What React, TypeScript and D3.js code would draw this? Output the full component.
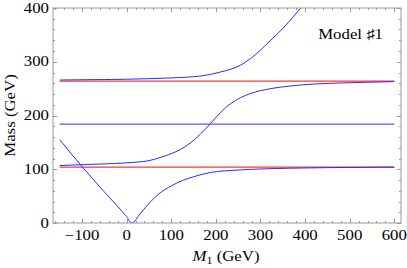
import * as d3 from 'd3';
import { useEffect, useRef } from 'react';

// M1 (GeV) grid and masses (GeV)
const m1V = [-150, -100, -50, 0, 12, 30, 53, 75, 100, 125, 150, 188, 250, 300, 368, 450, 600];
const massV = [155, 105, 58, 12, 0, 17, 39, 56, 69, 79, 86, 94, 98.5, 100.5, 102, 103, 104];

const m1Mid = [-150, -100, -50, 0, 50, 76, 100, 121, 143, 165, 188, 210, 233, 255, 278, 323, 368, 420, 500, 600];
const massMid = [107, 108.5, 110, 112, 116, 122, 129, 137, 149, 165, 185, 205, 222, 233, 241, 250, 255, 258.5, 261, 263];

const m1Top = [-150, -100, 0, 100, 166, 211, 256, 278, 323, 357, 390, 410];
const massTop = [266, 266.5, 267.5, 270, 273.5, 281, 294, 306, 340, 368, 400, 420];

const redLevels = [264, 104];
const blueLevels = [184];
const lineRange = [-150, 600];

const xTicks = [-100, 0, 100, 200, 300, 400, 500, 600];
const yTicks = [0, 100, 200, 300, 400];

export default function App() {
    const ref = useRef<SVGSVGElement>(null);

    useEffect(() => {
        const svg = d3.select(ref.current);
        svg.selectAll("*").remove();

        const left = 53, right = 401, top = 8, bottom = 223;
        const x = d3.scaleLinear().domain([-165, 615]).range([left, right]);
        const y = d3.scaleLinear().domain([0, 400]).range([bottom, top]);
        const frameColor = "#999";
        const blue = "#2a2aff";

        svg.append("defs").append("clipPath").attr("id", "plot-clip")
            .append("rect")
            .attr("x", left).attr("y", top)
            .attr("width", right - left).attr("height", bottom - top);

        const plot = svg.append("g").attr("clip-path", "url(#plot-clip)");

        const line = d3.line<[number, number]>()
            .x(d => x(d[0]))
            .y(d => y(d[1]))
            .curve(d3.curveMonotoneX);

        // flat levels
        redLevels.forEach(v => {
            plot.append("path")
                .datum(lineRange.map(m => [m, v] as [number, number]))
                .attr("fill", "none").attr("stroke", "#f00").attr("stroke-width", 1)
                .attr("d", line);
        });
        blueLevels.forEach(v => {
            plot.append("path")
                .datum(lineRange.map(m => [m, v] as [number, number]))
                .attr("fill", "none").attr("stroke", blue).attr("stroke-width", 1)
                .attr("d", line);
        });

        // mass curves
        const curves: [number[], number[]][] = [[m1V, massV], [m1Mid, massMid], [m1Top, massTop]];
        curves.forEach(([xs, ys]) => {
            plot.append("path")
                .datum(xs.map((m, i) => [m, ys[i]] as [number, number]))
                .attr("fill", "none").attr("stroke", blue).attr("stroke-width", 1)
                .attr("d", line);
        });

        // frame
        svg.append("rect")
            .attr("x", left).attr("y", top)
            .attr("width", right - left).attr("height", bottom - top)
            .attr("fill", "none").attr("stroke", frameColor).attr("stroke-width", 1);

        const ticks = svg.append("g").attr("stroke", frameColor).attr("stroke-width", 1);
        d3.range(-160, 601, 20).forEach(t => {
            const len = t % 100 === 0 ? 4 : 2;
            const px = Math.round(x(t)) + 0.5;
            ticks.append("line").attr("x1", px).attr("x2", px).attr("y1", bottom).attr("y2", bottom - len);
            ticks.append("line").attr("x1", px).attr("x2", px).attr("y1", top).attr("y2", top + len);
        });
        d3.range(0, 401, 20).forEach(t => {
            const len = t % 100 === 0 ? 4 : 2;
            const py = Math.round(y(t)) + 0.5;
            ticks.append("line").attr("x1", left).attr("x2", left + len).attr("y1", py).attr("y2", py);
            ticks.append("line").attr("x1", right).attr("x2", right - len).attr("y1", py).attr("y2", py);
        });

        const font = "'Liberation Serif', 'DejaVu Serif', serif";
        const stretch = 1.2;

        // text with the reference's slightly wide letterforms
        const addText = (px: number, py: number, anchor: string, rot = 0) =>
            svg.append("text")
                .attr("transform", `translate(${px},${py}) rotate(${rot}) scale(${stretch},1)`)
                .attr("text-anchor", anchor)
                .style("font-family", font).style("font-size", "14px");

        xTicks.forEach(d => {
            addText(x(d), 240, "middle").text(d < 0 ? "\u2212" + Math.abs(d) : String(d));
        });
        yTicks.forEach(d => {
            addText(left - 4, y(d) + 4.5, "end").text(String(d));
        });

        const xLabel = addText(226, 261, "middle");
        xLabel.append("tspan").style("font-style", "italic").text("M");
        xLabel.append("tspan").attr("dy", 3).style("font-size", "10px").text("1");
        xLabel.append("tspan").attr("dy", -3).text(" (GeV)");

        addText(15, (top + bottom) / 2, "middle", -90).text("Mass (GeV)");

        addText(383, 39, "end").text("Model \u266F1");
    }, []);

    return (
        <svg ref={ref} width={407} height={268}
            style={{ position: 'absolute', left: 0, top: 0, background: '#fff' }} />
    );
}
